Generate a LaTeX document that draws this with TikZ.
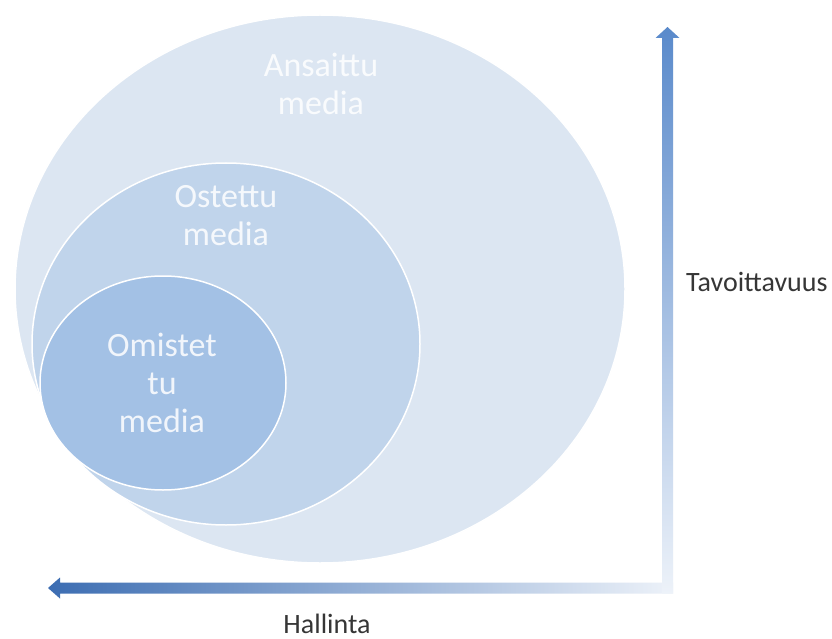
\documentclass[tikz,border=0pt]{standalone}
\usepackage{fontspec}
\setmainfont{Carlito}
\usetikzlibrary{calc,shapes.geometric}
\definecolor{earned}{HTML}{DCE6F2}
\definecolor{paid}{HTML}{C0D4EB}
\definecolor{owned}{HTML}{A3C1E5}
\definecolor{vaxtop}{HTML}{5A8ACB}
\definecolor{haxleft}{HTML}{3C6DB2}
\definecolor{axislight}{HTML}{EDF2F9}
\definecolor{labelgray}{HTML}{363636}
\begin{document}
\begin{tikzpicture}[x=1pt,y=-1pt,
  mediaellipse/.style={ellipse, draw=white, line width=1.5pt, inner sep=0pt},
  medialabel/.style={text=white, text opacity=0.85, align=center, inner sep=0pt, font=\fontsize{34}{38}\selectfont},
  axislabel/.style={text=labelgray, inner sep=0pt, font=\fontsize{28}{32}\selectfont}]
\useasboundingbox (0,0) rectangle (832,639);
\fill[white] (0,0) rectangle (832,639);
% ellipses
\node[mediaellipse, fill=earned, minimum width=610pt, minimum height=548pt] (earnedE) at (320,289) {};
\node[mediaellipse, fill=paid, minimum width=388pt, minimum height=362pt] (paidE) at (226,344) {};
\node[mediaellipse, fill=owned, minimum width=246pt, minimum height=214pt] (ownedE) at (163,383) {};
% texts
\node[medialabel] (earnedT) at (321,84) {Ansaittu\\media};
\node[medialabel] (paidT) at (226,216) {Ostettu\\media};
\node[medialabel] (ownedT) at (162,383) {Omistet\\tu\\media};
% axes
\coordinate (corner) at (667.5,588);
\coordinate (vtip) at (667.5,27);
\coordinate (htip) at (48,588);
\shade[left color=haxleft, right color=axislight]
  (htip) -- ($(htip)+(12,-10.5)$) -- ($(htip)+(12,-5.5)$) -- ($(corner)+(5.5,-5.5)$)
  -- ($(corner)+(5.5,5.5)$) -- ($(htip)+(12,5.5)$) -- ($(htip)+(12,10.5)$) -- cycle;
\shade[top color=vaxtop, bottom color=axislight]
  (vtip) -- ($(vtip)+(12,11)$) -- ($(vtip)+(5.5,11)$) -- ($(corner)+(5.5,5.5)$)
  -- ($(corner)+(-5.5,5.5)$) -- ($(vtip)+(-5.5,11)$) -- ($(vtip)+(-12,11)$) -- cycle;
% axis labels
\node[axislabel, anchor=base west] (reach) at (686,291) {Tavoittavuus};
\node[axislabel, anchor=base] (control) at (327,633) {Hallinta};
\end{tikzpicture}
\end{document}
